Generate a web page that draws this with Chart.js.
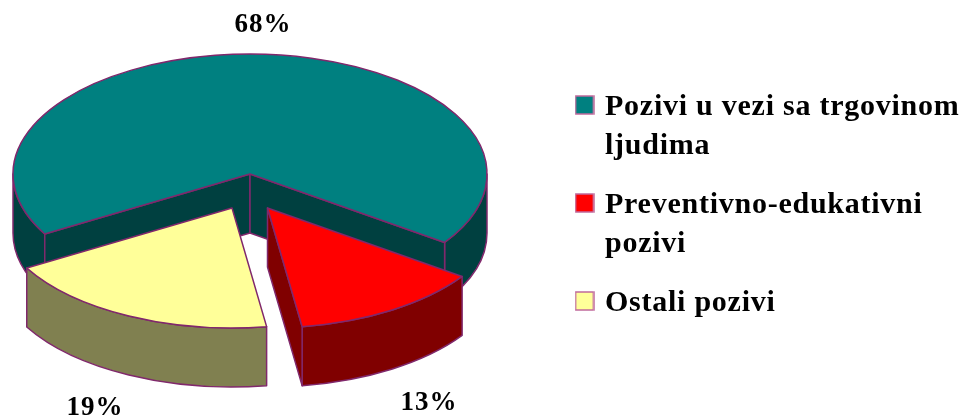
<!DOCTYPE html>
<html>
<head>
<meta charset="utf-8">
<title>Pozivi</title>
<script src="https://cdn.jsdelivr.net/npm/chart.js@4/dist/chart.umd.js"></script>
<style>
  html, body { margin: 0; padding: 0; background: #fff; overflow: hidden; }
  canvas { display: block; }
</style>
</head>
<body>
<canvas id="pie-chart" width="961" height="418"></canvas>
<script>
// values
const categories = [
  ["Pozivi u vezi sa trgovinom", "ljudima"],
  ["Preventivno-edukativni", "pozivi"],
  ["Ostali pozivi"],
];
const percentages = [68, 13, 19];

// colours
const sliceColors = ["#008080", "#ff0000", "#ffff99"];
const wallColors = ["#004040", "#800000", "#808050"];
const edgeColor = "#80286c";

// 3D look: flattening, wall height, how far each slice is pulled out
const flatten = 0.506;
const wallDepth = 59;
const pullX = [0, 17.5, -18];
const pullY = [0, 34, 34];
// which cut faces of a slice can be seen from the front
const cutFaces = [["start", "end"], ["end"], []];

const labelFont = "bold 27px 'Liberation Serif'";
const labelSpots = [[263, 25], [429, 403], [95, 408]];

// legend swatch as a small canvas, lets the text sit closer than a plain box would
function makeSwatch(color) {
  const box = document.createElement("canvas");
  box.width = 20;
  box.height = 24; // extra room below lifts the square a bit against the text
  const c = box.getContext("2d");
  c.fillStyle = color;
  c.fillRect(1, 1, 18, 18);
  c.strokeStyle = "#c06a9c";
  c.lineWidth = 1.5;
  c.strokeRect(1, 1, 18, 18);
  return box;
}

const pie3d = {
  id: "pie3d",
  afterLayout(chart) {
    // pie takes the left part, legend goes where the original has it
    const area = chart.chartArea;
    area.left = 0;
    area.right = 500;
    area.top = 0;
    area.bottom = 348;
    const legend = chart.legend;
    legend.left = 559;
    legend.right = 961;
    legend.top = 72;
    legend.bottom = 418;
  },
  beforeDraw(chart) {
    chart.ctx.letterSpacing = "0.75px";
  },
  beforeDatasetDraw(chart, args) {
    const ctx = chart.ctx;
    args.meta.data.forEach((arc, i) => {
      const { x, y, startAngle, endAngle, outerRadius } = arc.getProps(
        ["x", "y", "startAngle", "endAngle", "outerRadius"], true
      );
      const cx = x + pullX[i];
      const cy = y + pullY[i];
      const rx = outerRadius;
      const ry = outerRadius * flatten;

      ctx.save();
      ctx.strokeStyle = edgeColor;
      ctx.lineWidth = 1.5;
      ctx.lineJoin = "round";
      ctx.fillStyle = wallColors[i];

      // outer rim, only the part facing the viewer
      [[0, Math.PI], [2 * Math.PI, 3 * Math.PI]].forEach(([from, to]) => {
        const a = Math.max(startAngle, from);
        const b = Math.min(endAngle, to);
        if (a >= b) return;
        ctx.beginPath();
        ctx.ellipse(cx, cy, rx, ry, 0, a, b);
        ctx.ellipse(cx, cy + wallDepth, rx, ry, 0, b, a, true);
        ctx.closePath();
        ctx.fill();
        ctx.stroke();
      });

      // flat cut faces
      cutFaces[i].forEach((side) => {
        const ang = side === "start" ? startAngle : endAngle;
        const ex = cx + Math.cos(ang) * rx;
        const ey = cy + Math.sin(ang) * ry;
        ctx.beginPath();
        ctx.moveTo(cx, cy);
        ctx.lineTo(ex, ey);
        ctx.lineTo(ex, ey + wallDepth);
        ctx.lineTo(cx, cy + wallDepth);
        ctx.closePath();
        ctx.fill();
        ctx.stroke();
      });

      // top of the slice, the library's arc squashed into an ellipse
      ctx.save();
      ctx.translate(pullX[i], cy);
      ctx.scale(1, flatten);
      ctx.translate(0, -y);
      arc.draw(ctx);
      ctx.restore();

      ctx.beginPath();
      ctx.moveTo(cx, cy);
      ctx.ellipse(cx, cy, rx, ry, 0, startAngle, endAngle);
      ctx.closePath();
      ctx.stroke();
      ctx.restore();
    });
    return false;
  },
  afterDraw(chart) {
    const ctx = chart.ctx;
    ctx.save();
    ctx.font = labelFont;
    ctx.letterSpacing = "1px";
    ctx.fillStyle = "#000";
    ctx.textAlign = "center";
    ctx.textBaseline = "middle";
    percentages.forEach((v, i) => {
      ctx.fillText(v + "%", labelSpots[i][0], labelSpots[i][1]);
    });
    ctx.restore();
  },
};

new Chart(document.getElementById("pie-chart"), {
  type: "pie",
  data: {
    labels: categories,
    datasets: [
      {
        data: percentages,
        backgroundColor: sliceColors,
        borderWidth: 0,
        radius: 237,
      },
    ],
  },
  options: {
    responsive: false,
    animation: false,
    rotation: 240,
    plugins: {
      tooltip: { enabled: false },
      legend: {
        position: "right",
        align: "start",
        labels: {
          usePointStyle: true,
          pointStyleWidth: 11,
          boxHeight: 19,
          padding: 20,
          color: "#000",
          font: { family: "'Liberation Serif'", weight: "bold", size: 30, lineHeight: 1.3 },
          generateLabels: () =>
            categories.map((text, i) => ({
              text,
              fillStyle: sliceColors[i],
              pointStyle: makeSwatch(sliceColors[i]),
              index: i,
            })),
        },
      },
    },
  },
  plugins: [pie3d],
});
</script>
</body>
</html>
